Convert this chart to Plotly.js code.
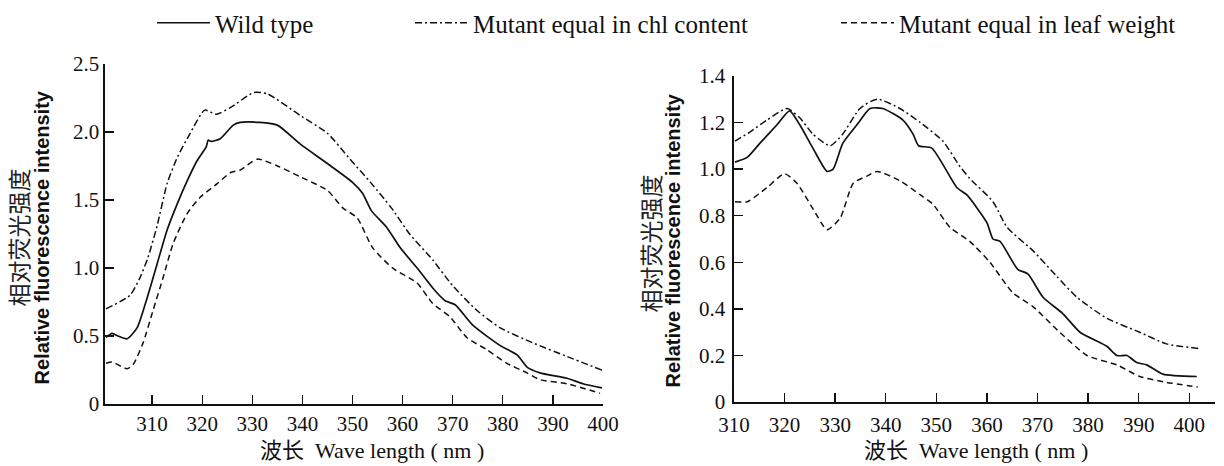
<!DOCTYPE html>
<html>
<head>
<meta charset="utf-8">
<script src="https://cdn.plot.ly/plotly-3.0.1.min.js"></script>
<style>html,body{margin:0;padding:0;background:#fff;}#chart{width:1224px;height:466px;}</style>
</head>
<body>
<div id="chart"></div>
<script>
// ---- Data ----
const seriesNames = ["Wild type", "Mutant equal in chl content", "Mutant equal in leaf weight"];

// Left panel
const wtL_x = [300.8, 302, 303.2, 305, 307, 309, 311, 313, 315, 317, 319, 320.8, 321.2, 321.8, 323.6, 326.2, 327.6, 331.5, 335, 339.6, 344.9, 350, 352, 353.8, 356.8, 359.5, 362.9, 366.1, 368.5, 370.5, 374, 379.5, 382.9, 384.9, 387.4, 392.8, 396, 399.8];
const wtL_y = [0.49, 0.52, 0.50, 0.48, 0.56, 0.78, 1.03, 1.28, 1.47, 1.64, 1.79, 1.89, 1.94, 1.93, 1.95, 2.05, 2.07, 2.07, 2.05, 1.91, 1.77, 1.63, 1.55, 1.42, 1.30, 1.15, 1.00, 0.85, 0.76, 0.73, 0.58, 0.43, 0.36, 0.27, 0.23, 0.19, 0.15, 0.12];

const chlL_x = [300.8, 305.6, 307.6, 309.2, 311, 313, 315, 317.6, 320.5, 322.8, 325.7, 330.3, 333, 339.6, 345, 349.5, 353.8, 357.8, 361.4, 366, 370, 374.8, 379.5, 386, 392.8, 399.8];
const chlL_y = [0.70, 0.80, 0.93, 1.08, 1.31, 1.62, 1.81, 1.99, 2.16, 2.13, 2.18, 2.29, 2.28, 2.12, 1.99, 1.80, 1.62, 1.44, 1.25, 1.06, 0.87, 0.69, 0.56, 0.45, 0.35, 0.25];

const leafL_x = [300.8, 302, 305, 306.2, 308.2, 310.2, 312.2, 314.2, 317, 319.6, 323, 325.6, 327.6, 331, 335, 339.6, 345, 348.1, 350.9, 354, 358, 362.9, 366, 369.5, 372.8, 376.8, 380.8, 384.8, 387.4, 392.8, 399.4];
const leafL_y = [0.30, 0.31, 0.26, 0.29, 0.45, 0.69, 0.93, 1.18, 1.40, 1.52, 1.62, 1.70, 1.72, 1.80, 1.75, 1.67, 1.57, 1.44, 1.37, 1.15, 1.00, 0.89, 0.74, 0.64, 0.49, 0.40, 0.30, 0.23, 0.18, 0.15, 0.08];

// Right panel
const wtR_x = [310.2, 312.6, 315.1, 318.5, 321, 323, 325.6, 328.4, 329.6, 331.5, 334.3, 336.9, 339.4, 343.4, 345.4, 346.5, 349.1, 354.1, 356, 360, 361.2, 362.6, 366.1, 368.1, 371.1, 375, 378.4, 383.7, 385.7, 387.7, 389.6, 391.6, 394.8, 401.5];
const wtR_y = [1.03, 1.05, 1.11, 1.19, 1.25, 1.19, 1.09, 0.99, 1.00, 1.11, 1.19, 1.26, 1.26, 1.21, 1.15, 1.10, 1.09, 0.92, 0.89, 0.77, 0.70, 0.69, 0.57, 0.55, 0.45, 0.38, 0.30, 0.24, 0.20, 0.20, 0.17, 0.16, 0.12, 0.11];

const chlR_x = [310.2, 313.2, 316.5, 320.5, 323, 325.6, 329, 331.5, 334.9, 338.3, 342.8, 346.8, 351.3, 354.7, 356.6, 361.2, 364, 369.1, 373.8, 377.8, 383.7, 390.2, 395.5, 402];
const chlR_y = [1.12, 1.16, 1.21, 1.26, 1.22, 1.15, 1.10, 1.15, 1.26, 1.30, 1.26, 1.20, 1.12, 1.01, 0.96, 0.86, 0.75, 0.65, 0.54, 0.45, 0.36, 0.30, 0.25, 0.23];

const leafR_x = [310.2, 312.6, 316.5, 320, 322.4, 325.6, 328.4, 331, 333.6, 336.3, 338.3, 342.8, 346.8, 349.3, 352.7, 356.6, 360.6, 365.1, 369.1, 374.4, 379.8, 385.7, 390.2, 395.5, 401.7];
const leafR_y = [0.86, 0.86, 0.92, 0.98, 0.94, 0.83, 0.74, 0.79, 0.94, 0.97, 0.99, 0.95, 0.89, 0.85, 0.75, 0.69, 0.60, 0.47, 0.41, 0.30, 0.20, 0.16, 0.11, 0.085, 0.065];

// Tick labels
const xTickVals = [310, 320, 330, 340, 350, 360, 370, 380, 390, 400];
const xTickText = ["310", "320", "330", "340", "350", "360", "370", "380", "390", "400"];
const yLTickVals = [0, 0.5, 1.0, 1.5, 2.0, 2.5];
const yLTickText = ["0", "0.5", "1.0", "1.5", "2.0", "2.5"];
const yRTickVals = [0, 0.2, 0.4, 0.6, 0.8, 1.0, 1.2, 1.4];
const yRTickText = ["0", "0.2", "0.4", "0.6", "0.8", "1.0", "1.2", "1.4"];

const yTitleCN = "相对荧光强度";
const yTitleEN = "Relative fluorescence intensity";
const xTitle = "波长  Wave length ( nm )";

// ---- Styles ----
const W = 1224, H = 466;
const px = v => v / W, py = v => 1 - v / H;
const serif = "Liberation Serif, Times New Roman, Noto Sans CJK SC, serif";
const ink = "#111";
const lineStyles = [
  {color: ink, width: 1.7, dash: "solid"},
  {color: ink, width: 1.5, dash: "7px,3px,2px,3px"},
  {color: ink, width: 1.5, dash: "6px,4px"}
];

function tr(x, y, i, ax, show) {
  return {
    x: x, y: y, type: "scatter", mode: "lines", name: seriesNames[i],
    line: Object.assign({shape: "spline", smoothing: 0.6}, lineStyles[i]),
    xaxis: ax === 1 ? "x" : "x2", yaxis: ax === 1 ? "y" : "y2",
    showlegend: show, legend: i === 0 ? "legend" : (i === 1 ? "legend2" : "legend3"),
    hoverinfo: "x+y"
  };
}

const data = [
  tr(wtL_x, wtL_y, 0, 1, true), tr(chlL_x, chlL_y, 1, 1, true), tr(leafL_x, leafL_y, 2, 1, true),
  tr(wtR_x, wtR_y, 0, 2, false), tr(chlR_x, chlR_y, 1, 2, false), tr(leafR_x, leafR_y, 2, 2, false)
];

const axBase = {
  showline: true, linecolor: ink, linewidth: 1.6, showgrid: false, zeroline: false,
  ticks: "inside", ticklen: 9, tickwidth: 1.4, tickcolor: ink,
  tickfont: {family: serif, size: 21, color: ink}, fixedrange: true
};

const legBase = (xp, yp) => ({
  x: px(xp), y: py(yp), xanchor: "left", yanchor: "middle", orientation: "h",
  font: {family: serif, size: 25, color: ink}, bgcolor: "rgba(0,0,0,0)",
  itemwidth: 53, borderwidth: 0, tracegroupgap: 0
});

const layout = {
  width: W, height: H, margin: {l: 0, r: 0, t: 0, b: 0},
  paper_bgcolor: "#fff", plot_bgcolor: "#fff",
  showlegend: true,
  legend: legBase(152, 22),
  legend2: legBase(410, 22),
  legend3: legBase(836, 22),
  xaxis: Object.assign({}, axBase, {domain: [px(105), px(603)], range: [300.6, 400], tickvals: xTickVals, ticktext: xTickText, anchor: "y"}),
  yaxis: Object.assign({}, axBase, {domain: [py(404), py(63)], range: [0, 2.5], tickvals: yLTickVals, ticktext: yLTickText, anchor: "x"}),
  xaxis2: Object.assign({}, axBase, {domain: [px(734), px(1215)], range: [310, 405.1], tickvals: xTickVals, ticktext: xTickText, anchor: "y2", ticklabelstandoff: 3}),
  yaxis2: Object.assign({}, axBase, {domain: [py(402), py(75)], range: [0, 1.4], tickvals: yRTickVals, ticktext: yRTickText, anchor: "x2", ticklabelstandoff: 3}),
  annotations: [
    {text: yTitleCN, xref: "paper", yref: "paper", x: px(18), y: py(237), textangle: -90, showarrow: false, xanchor: "center", yanchor: "middle", font: {family: "Noto Sans CJK SC", size: 23, color: "#222"}},
    {text: "<b>" + yTitleEN + "</b>", xref: "paper", yref: "paper", x: px(42), y: py(237), textangle: -90, showarrow: false, xanchor: "center", yanchor: "middle", font: {family: "Liberation Sans, Arial, sans-serif", size: 20, color: ink}},
    {text: yTitleCN, xref: "paper", yref: "paper", x: px(650), y: py(243), textangle: -90, showarrow: false, xanchor: "center", yanchor: "middle", font: {family: "Noto Sans CJK SC", size: 23, color: "#222"}},
    {text: "<b>" + yTitleEN + "</b>", xref: "paper", yref: "paper", x: px(673), y: py(240), textangle: -90, showarrow: false, xanchor: "center", yanchor: "middle", font: {family: "Liberation Sans, Arial, sans-serif", size: 20, color: ink}},
    {text: xTitle, xref: "paper", yref: "paper", x: px(372), y: py(450), showarrow: false, xanchor: "center", yanchor: "middle", font: {family: serif, size: 22, color: ink}},
    {text: xTitle, xref: "paper", yref: "paper", x: px(976), y: py(450), showarrow: false, xanchor: "center", yanchor: "middle", font: {family: serif, size: 22, color: ink}}
  ]
};

Plotly.newPlot("chart", data, layout, {displayModeBar: false, staticPlot: true});
</script>
</body>
</html>
